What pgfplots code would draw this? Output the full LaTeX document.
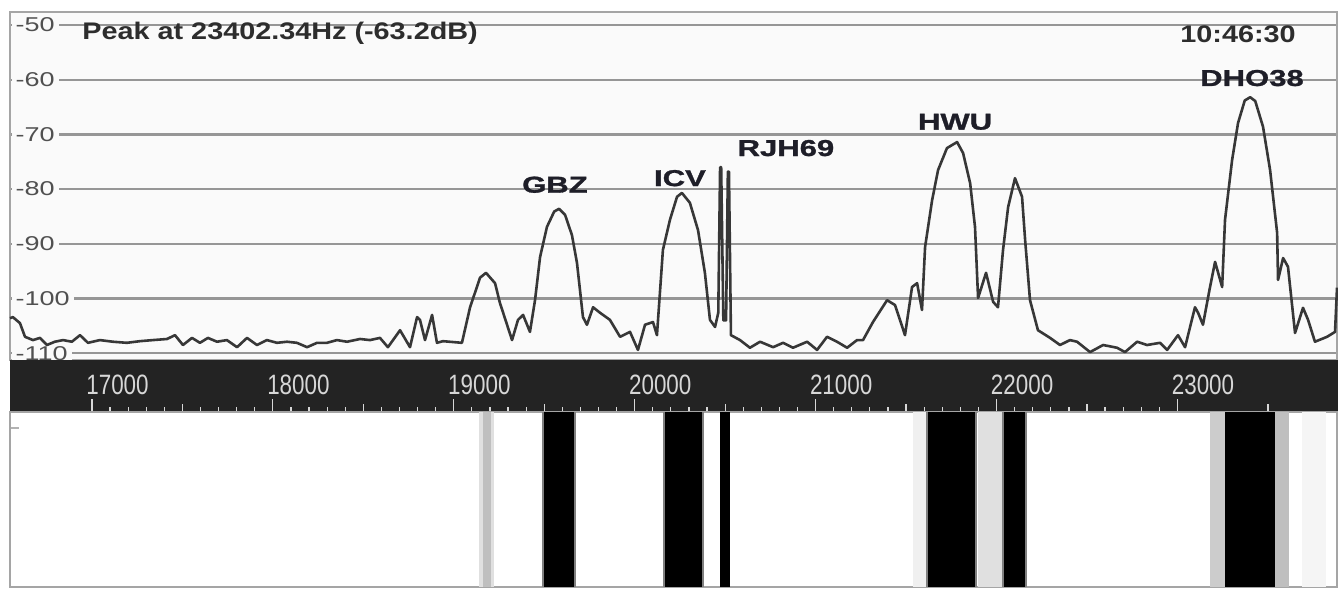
\documentclass[border=0pt]{standalone}
\usepackage{fontspec}
\setmainfont{Liberation Sans}
\newfontfamily\titlef[FakeStretch=1.2]{Liberation Sans}
\newfontfamily\stationf[FakeStretch=1.35,FakeBold=1.2]{Liberation Sans}
\newfontfamily\ytickf[FakeStretch=1.35]{Liberation Sans}
\newfontfamily\xtickf[FakeStretch=0.8]{Liberation Sans}
\usepackage{pgfplots}
\pgfplotsset{compat=1.18}
\definecolor{bgc}{RGB}{250,250,250}
\definecolor{framec}{RGB}{165,165,165}
\definecolor{gridc}{RGB}{150,150,150}
\definecolor{linec}{RGB}{55,55,55}
\definecolor{tickc}{RGB}{80,80,80}
\definecolor{bandc}{RGB}{35,35,35}
\definecolor{tickwc}{RGB}{215,215,215}
\definecolor{labc}{RGB}{30,30,40}
\definecolor{titc}{RGB}{45,45,45}
\begin{document}
\begin{tikzpicture}
\useasboundingbox (0,0) rectangle (669pt,294.5pt);
% ---------------- spectrum ----------------
\begin{axis}[
  at={(5pt,114.5pt)}, anchor=south west,
  scale only axis, width=663.5pt, height=174pt,
  xmin=16547, xmax=23882, ymin=-111.24, ymax=-47.62,
  scaled x ticks=false, scaled y ticks=false,
  axis background/.style={fill=bgc},
  axis line style={draw=framec, line width=0.8pt},
  xtick=\empty,
  ytick={-110,-100,-90,-80,-70,-60,-50},
  yticklabels={-110,-100,-90,-80,-70,-60,-50},
  ymajorgrids, grid style={draw=gridc, line width=1.2pt},
  major tick length=0pt,
  yticklabel style={anchor=west, font=\ytickf\fontsize{10}{10}\selectfont, text=tickc,
                    fill=bgc, inner xsep=2pt, inner ysep=1pt, xshift=0.6pt},
  clip=false,
]
\addplot[draw=linec, line width=1.3pt, line join=round] coordinates {
(16547,-103.6) (16563,-103.4) (16602,-104.5) (16630,-107.0) (16674,-107.6)
(16713,-107.2) (16751,-108.5) (16795,-107.9) (16840,-107.6) (16889,-107.9)
(16934,-106.7) (16978,-108.1) (17044,-107.6) (17116,-107.9) (17193,-108.1)
(17265,-107.8) (17337,-107.6) (17415,-107.4) (17459,-106.7) (17503,-108.5)
(17553,-107.2) (17597,-108.1) (17641,-107.2) (17691,-107.9) (17746,-107.6)
(17802,-108.9) (17857,-107.2) (17912,-108.5) (17967,-107.6) (18023,-108.1)
(18078,-107.9) (18133,-108.1) (18189,-108.9) (18244,-108.1) (18299,-108.1)
(18354,-107.6) (18410,-107.9) (18482,-107.4) (18537,-107.6) (18592,-107.2)
(18636,-108.9) (18703,-105.8) (18758,-108.9) (18797,-103.4) (18813,-103.9)
(18841,-107.6) (18880,-103.0) (18907,-108.1) (18940,-107.8) (19045,-108.1)
(19090,-101.6) (19145,-96.2) (19178,-95.3) (19228,-97.2) (19255,-100.8)
(19322,-107.6) (19355,-103.9) (19383,-103.0) (19421,-106.1) (19449,-100.3)
(19477,-92.4) (19515,-86.9) (19555,-84.1) (19582,-83.6) (19615,-84.7)
(19653,-88.4) (19681,-93.5) (19714,-103.4) (19736,-104.8) (19770,-101.6)
(19808,-102.6) (19863,-103.9) (19919,-107.0) (19974,-106.1) (20018,-109.4)
(20057,-104.8) (20101,-104.3) (20123,-106.7) (20156,-91.1) (20195,-85.6)
(20234,-81.4) (20261,-80.7) (20305,-82.5) (20350,-87.5) (20388,-95.3)
(20416,-103.9) (20444,-105.2) (20462,-102.6) (20472,-76.0) (20478,-76.0)
(20490,-104.0) (20505,-104.0) (20515,-76.8) (20521,-76.8) (20532,-106.7)
(20582,-107.6) (20637,-109.0) (20693,-107.9) (20765,-108.9) (20820,-108.1)
(20875,-109.0) (20953,-107.9) (21008,-109.4) (21063,-107.0) (21118,-107.9)
(21174,-109.0) (21229,-107.6) (21262,-107.6) (21317,-104.3) (21395,-100.3)
(21439,-101.2) (21494,-106.7) (21533,-97.9) (21561,-97.2) (21588,-102.1)
(21605,-90.6) (21644,-82.0) (21677,-76.5) (21726,-72.5) (21782,-71.4)
(21815,-73.4) (21854,-78.9) (21881,-86.9) (21898,-99.9) (21942,-95.3)
(21981,-100.6) (22008,-101.6) (22036,-91.1) (22064,-83.3) (22102,-78.0)
(22141,-81.4) (22158,-89.3) (22185,-100.3) (22229,-105.8) (22296,-107.2)
(22351,-108.5) (22406,-107.6) (22445,-107.9) (22517,-109.8) (22589,-108.5)
(22666,-109.0) (22710,-109.8) (22777,-107.9) (22832,-108.5) (22904,-108.1)
(22943,-109.4) (23003,-106.7) (23042,-108.9) (23097,-101.6) (23114,-102.6)
(23141,-104.8) (23180,-97.9) (23208,-93.3) (23247,-97.9) (23263,-85.6)
(23302,-74.7) (23335,-67.9) (23372,-63.8) (23402,-63.2) (23430,-63.9)
(23473,-68.6) (23512,-76.5) (23551,-88.0) (23556,-96.6) (23584,-92.6)
(23611,-94.2) (23650,-106.3) (23694,-101.7) (23722,-103.9) (23760,-107.9)
(23827,-107.0) (23871,-106.1) (23882,-98.0)
};
\node[anchor=west, inner sep=0pt, text=titc, font=\titlef\bfseries\fontsize{12}{12}\selectfont]
  at (axis cs:16945,-51.6) {Peak at 23402.34Hz (-63.2dB)};
\node[anchor=east, inner sep=0pt, text=titc, font=\titlef\bfseries\fontsize{12}{12}\selectfont]
  at (axis cs:23656,-51.6) {10:46:30};
\tikzset{stn/.style={inner sep=0pt, text=labc, font=\stationf\bfseries\fontsize{11.5}{11.5}\selectfont}}
\node[stn] at (axis cs:19559,-79.2) {GBZ};
\node[stn] at (axis cs:20250,-78.0) {ICV};
\node[stn] at (axis cs:20836,-72.5) {RJH69};
\node[stn] at (axis cs:21771,-67.7) {HWU};
\node[stn] at (axis cs:23412,-59.7) {DHO38};
\end{axis}
% ---------------- frequency band ----------------
\begin{axis}[
  at={(5pt,88.5pt)}, anchor=south west,
  scale only axis, width=663.5pt, height=26pt,
  xmin=16547, xmax=23882, ymin=0, ymax=1,
  scaled x ticks=false, scaled y ticks=false,
  axis background/.style={fill=bandc},
  axis line style={draw=bandc},
  ytick=\empty,
  xtick={17000,18000,19000,20000,21000,22000,23000},
  xticklabels={17000,18000,19000,20000,21000,22000,23000},
  minor x tick num=9,
  extra x ticks={17500,18500,19500,20500,21500,22500,23500},
  extra x tick labels={},
  extra x tick style={major tick length=3.8pt},
  xtick pos=bottom,
  tick align=inside,
  major tick length=6.5pt, minor tick length=2.5pt,
  tick style={draw=tickwc, line width=0.6pt},
  xticklabel style={anchor=base west, inner sep=0pt, xshift=-3pt, yshift=8.5pt,
                    font=\xtickf\fontsize{14}{14}\selectfont, text=tickwc},
]
\addplot[draw=none] coordinates {(17000,0.5)};
\end{axis}
% ---------------- waterfall ----------------
\begin{axis}[
  at={(5pt,1pt)}, anchor=south west,
  scale only axis, width=663.5pt, height=87.5pt,
  xmin=16547, xmax=23882, ymin=0, ymax=1,
  scaled x ticks=false, scaled y ticks=false,
  axis background/.style={fill=white},
  axis line style={draw=framec, line width=0.6pt},
  xtick=\empty, ytick={0.909}, yticklabels={}, ytick pos=left,
  tick align=inside, major tick length=4.5pt, tick style={draw=gray!60, line width=0.6pt},
]
\addplot[fill=black!6, draw=none] coordinates {(21538,1) (21610,1)} \closedcycle;
\addplot[fill=black!12, draw=none] coordinates {(21895,1) (22030,1)} \closedcycle;
\addplot[fill=black!4, draw=none] coordinates {(23690,1) (23820,1)} \closedcycle;
\addplot[fill=black!12, draw=none] coordinates {(19140,1) (19222,1)} \closedcycle;
\addplot[fill=black!25, draw=none] coordinates {(19160,1) (19205,1)} \closedcycle;
\addplot[fill=black!20, draw=none] coordinates {(23180,1) (23268,1)} \closedcycle;
\addplot[fill=black!25, draw=none] coordinates {(23540,1) (23615,1)} \closedcycle;
\addplot[fill=black!50, draw=none] coordinates {(19488,1) (19676,1)} \closedcycle;
\addplot[fill=black, draw=none] coordinates {(19499,1) (19665,1)} \closedcycle;
\addplot[fill=black!50, draw=none] coordinates {(20157,1) (20383,1)} \closedcycle;
\addplot[fill=black, draw=none] coordinates {(20168,1) (20372,1)} \closedcycle;
\addplot[fill=black, draw=none] coordinates {(20472,1) (20527,1)} \closedcycle;
\addplot[fill=black!50, draw=none] coordinates {(21610,1) (21892,1)} \closedcycle;
\addplot[fill=black, draw=none] coordinates {(21621,1) (21881,1)} \closedcycle;
\addplot[fill=black!50, draw=none] coordinates {(22031,1) (22169,1)} \closedcycle;
\addplot[fill=black, draw=none] coordinates {(22042,1) (22158,1)} \closedcycle;
\addplot[fill=black, draw=none] coordinates {(23263,1) (23540,1)} \closedcycle;
\end{axis}
\end{tikzpicture}
\end{document}
